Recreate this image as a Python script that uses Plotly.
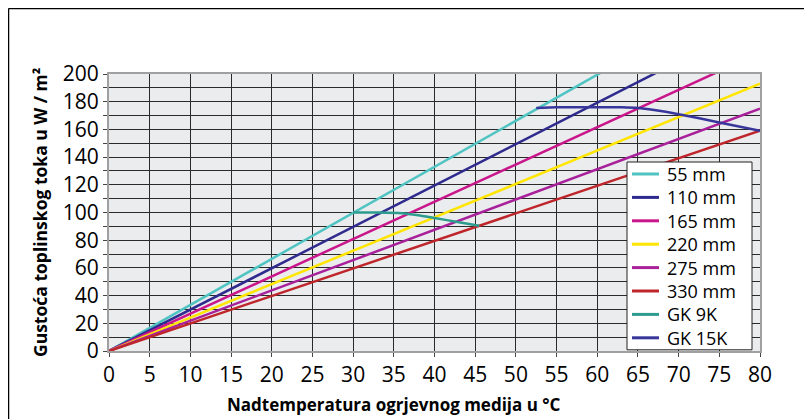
import plotly.graph_objects as go

# Straight radiator-thickness curves: value at x=0 and x=80 (clipped by the 0-200 axis)
series_names = ["55 mm", "110 mm", "165 mm", "220 mm", "275 mm", "330 mm"]
x_line = [0, 80]
y_55 = [0, 266]
y_110 = [0, 239]
y_165 = [0, 215.5]
y_220 = [0, 193]
y_275 = [0, 175]
y_330 = [0, 159]

# GK curves
x_gk9 = [30, 33, 36, 38, 40, 43, 45.5]
y_gk9 = [100, 100, 99.5, 98, 96, 93, 90.5]
x_gk15 = [52.5, 55, 60, 63, 65, 67, 70, 75, 80]
y_gk15 = [175.5, 176, 176, 176, 175.5, 174, 171, 165, 159]

legend_names = series_names + ["GK 9K", "GK 15K"]
x_ticks = list(range(0, 81, 5))
y_ticks = list(range(0, 201, 20))

colors = {
    "55 mm": "#4fc4c2",
    "110 mm": "#2f2a8e",
    "165 mm": "#c9168b",
    "220 mm": "#ffe500",
    "275 mm": "#a8219b",
    "330 mm": "#bf262c",
    "GK 9K": "#2c9c8e",
    "GK 15K": "#38369b",
}

# figure geometry (figure pixels)
W, H = 804, 411
L, R, T, B = 101, 52, 66, 68
PW, PH = W - L - R, H - T - B


def px(fx):
    return (fx - L) / PW


def py(fy):
    return (T + PH - fy) / PH


fig = go.Figure()
for name, ys in zip(series_names, [y_55, y_110, y_165, y_220, y_275, y_330]):
    fig.add_trace(go.Scatter(x=x_line, y=ys, mode="lines", name=name,
                             line=dict(color=colors[name], width=2.5)))
fig.add_trace(go.Scatter(x=x_gk9, y=y_gk9, mode="lines", name="GK 9K",
                         line=dict(color=colors["GK 9K"], width=2.5, shape="spline", smoothing=0.6)))
fig.add_trace(go.Scatter(x=x_gk15, y=y_gk15, mode="lines", name="GK 15K",
                         line=dict(color=colors["GK 15K"], width=2.5, shape="spline", smoothing=0.6)))

font_family = "Open Sans, Noto Sans, sans-serif"

LEG_TOP, LEG_STEP = 166.0, 23.4
LEG_BOTTOM = LEG_TOP + LEG_STEP * (len(legend_names) - 1) + 12

shapes = [
    dict(type="line", xref="paper", yref="paper", x0=px(0.5), x1=px(W), y0=py(0.5), y1=py(0.5),
         line=dict(color="black", width=1.5)),
    dict(type="line", xref="paper", yref="paper", x0=px(0.5), x1=px(0.5), y0=py(H), y1=py(0.5),
         line=dict(color="black", width=1.5)),
    # legend box
    dict(type="rect", xref="paper", yref="paper", x0=px(619), x1=px(744), y0=py(LEG_BOTTOM), y1=py(154),
         fillcolor="white", line=dict(color="#222", width=1), layer="above"),
]
annotations = []
for i, name in enumerate(legend_names):
    cy = LEG_TOP + LEG_STEP * i
    shapes.append(dict(type="line", xref="paper", yref="paper", x0=px(624), x1=px(651),
                       y0=py(cy), y1=py(cy), line=dict(color=colors[name], width=3), layer="above"))
    annotations.append(dict(text=name, xref="paper", yref="paper", x=px(658), y=py(cy),
                            xanchor="left", yanchor="middle", showarrow=False, borderpad=0,
                            font=dict(size=18, family=font_family, color="black")))

annotations.append(dict(text="<b>Nadtemperatura ogrjevnog medija u °C</b>", xref="paper", yref="paper",
                        x=px(385.5), y=py(396), xanchor="center", yanchor="middle", showarrow=False,
                        font=dict(size=17, family=font_family, color="black")))
annotations.append(dict(text="<b>Gustoća toplinskog toka u W / m²</b>", xref="paper", yref="paper",
                        x=px(32), y=py(205), xanchor="center", yanchor="middle", showarrow=False,
                        textangle=-90, font=dict(size=17.5, family=font_family, color="black")))

fig.update_layout(
    width=W, height=H,
    margin=dict(l=L, r=R, t=T, b=B, pad=0),
    paper_bgcolor="white",
    plot_bgcolor="#ebecee",
    font=dict(family=font_family, color="black"),
    showlegend=False,
    xaxis=dict(range=[0, 80], tickvals=x_ticks, ticks="outside", ticklen=4,
               tickcolor="#444", showgrid=True, gridcolor="#2a2a2a", gridwidth=1,
               showline=True, linecolor="#a0a0a0", linewidth=2, mirror=True,
               zeroline=False, tickfont=dict(size=21)),
    yaxis=dict(range=[0, 200], tickvals=y_ticks, ticks="outside", ticklen=4,
               tickcolor="#444", showgrid=True, gridcolor="#2a2a2a", gridwidth=1,
               showline=True, linecolor="#a0a0a0", linewidth=2, mirror=True,
               zeroline=False, tickfont=dict(size=21),
               minor=dict(dtick=10, showgrid=True, gridcolor="#2a2a2a", gridwidth=1,
                          ticks="outside", ticklen=4, tickcolor="#444")),
    shapes=shapes,
    annotations=annotations,
)

fig.write_html("out.html")
